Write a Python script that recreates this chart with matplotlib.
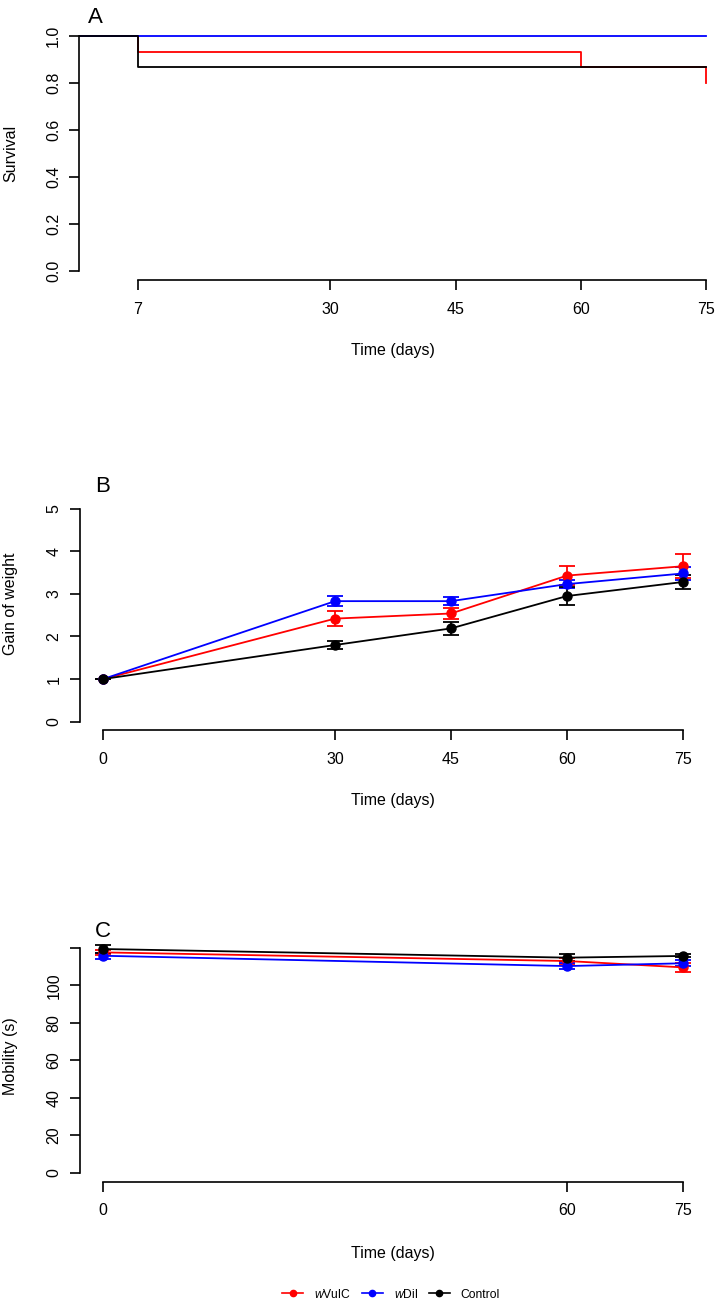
import numpy as np
import matplotlib
matplotlib.use("Agg")
import matplotlib.pyplot as plt
from matplotlib.lines import Line2D

plt.rcParams['font.family'] = ['Liberation Sans', 'DejaVu Sans']
plt.rcParams['mathtext.fontset'] = 'custom'
plt.rcParams['mathtext.rm'] = 'Liberation Sans'
plt.rcParams['mathtext.it'] = 'Liberation Sans:italic'

# --- data ---
# A: survival (Kaplan-Meier steps)
surv_vulc_t = [0, 7, 60, 75]
surv_vulc_s = [1.0, 0.933, 0.867, 0.80]
surv_dil_t = [0, 75]
surv_dil_s = [1.0, 1.0]
surv_ctrl_t = [0, 7, 75]
surv_ctrl_s = [1.0, 0.867, 0.867]
surv_ticks = [7, 30, 45, 60, 75]

# B: gain of weight
days_w = [0, 30, 45, 60, 75]
vulc_w = [1.0, 2.42, 2.54, 3.43, 3.65]
vulc_w_err = [0.0, 0.18, 0.14, 0.22, 0.28]
dil_w = [1.0, 2.83, 2.83, 3.23, 3.48]
dil_w_err = [0.0, 0.11, 0.10, 0.10, 0.15]
ctrl_w = [1.0, 1.80, 2.19, 2.95, 3.28]
ctrl_w_err = [0.0, 0.09, 0.16, 0.21, 0.17]

# C: mobility
days_m = [0, 60, 75]
vulc_m = [117.5, 112.9, 109.5]
vulc_m_err = [1.5, 1.5, 2.3]
dil_m = [115.7, 110.2, 111.7]
dil_m_err = [1.7, 1.5, 1.6]
ctrl_m = [119.3, 114.7, 115.6]
ctrl_m_err = [2.0, 2.0, 0.8]

RED, BLUE, BLACK = "#FF0000", "#0000FF", "#000000"
W, H = 719, 1303
FS = 11.5

fig = plt.figure(figsize=(W / 100, H / 100), dpi=100)


def px_axes(l, t, r, b):
    return fig.add_axes([l / W, 1 - b / H, (r - l) / W, (b - t) / H])


def style(ax, xb, yb, xt, yt, ytl):
    for s in ["top", "right"]:
        ax.spines[s].set_visible(False)
    ax.spines["left"].set_bounds(*yb)
    ax.spines["bottom"].set_bounds(*xb)
    for s in ["left", "bottom"]:
        ax.spines[s].set_linewidth(1.2)
    ax.set_xticks(xt)
    ax.set_xticklabels([str(v) for v in xt])
    ax.set_yticks(yt)
    ax.set_yticklabels(ytl)
    ax.tick_params(axis="x", length=7.5, width=1.2, pad=8, labelsize=FS)
    ax.tick_params(axis="y", length=7.5, width=1.2, pad=5.5, labelsize=FS)
    plt.setp(ax.get_yticklabels(), rotation=90, va="center")


# ---- A ----
axA = px_axes(79.3, 26.9, 731.5, 280.1)
axA.step(surv_vulc_t, surv_vulc_s, where="post", color=RED, lw=1.3)
axA.step(surv_dil_t, surv_dil_s, where="post", color=BLUE, lw=1.3)
axA.step(surv_ctrl_t, surv_ctrl_s, where="post", color=BLACK, lw=1.3)
axA.set_xlim(0, 78)
axA.set_ylim(-0.04, 1.04)
yt = [0, 0.2, 0.4, 0.6, 0.8, 1.0]
style(axA, (7, 75), (0, 1), surv_ticks, yt, [f"{v:.1f}" for v in yt])


def err_panel(ax, x, series):
    for y, e, c in series:
        ax.errorbar(x, y, yerr=e, color=c, marker="o", ms=6.5, lw=1.3,
                    elinewidth=1.3, capsize=6, capthick=1.3)


# ---- B ----
axB = px_axes(79.8, 500.2, 706.2, 730.2)
err_panel(axB, days_w, [(vulc_w, vulc_w_err, RED), (dil_w, dil_w_err, BLUE),
                        (ctrl_w, ctrl_w_err, BLACK)])
axB.set_xlim(-3, 78)
axB.set_ylim(-0.2, 5.2)
yt = [0, 1, 2, 3, 4, 5]
style(axB, (0, 75), (0, 5), days_w, yt, [str(v) for v in yt])

# ---- C ----
axC = px_axes(79.8, 938.7, 706.2, 1181.7)
err_panel(axC, days_m, [(vulc_m, vulc_m_err, RED), (dil_m, dil_m_err, BLUE),
                        (ctrl_m, ctrl_m_err, BLACK)])
axC.set_xlim(-3, 78)
axC.set_ylim(-4.8, 124.8)
yt = [0, 20, 40, 60, 80, 100, 120]
style(axC, (0, 75), (0, 120), days_m, yt, ["0", "20", "40", "60", "80", "100", ""])

# panel letters, axis labels
for letter, x, y in [("A", 88, 22.7), ("B", 95, 492), ("C", 95, 937)]:
    fig.text(x / W, 1 - y / H, letter, fontsize=16, ha="left", va="baseline")

for lab, y in [("Survival", 153.5), ("Gain of weight", 604), ("Mobility (s)", 1056)]:
    fig.text(11 / W, 1 - y / H, lab, fontsize=FS, rotation=90, ha="center", va="center")

for y in [350.5, 800.5, 1253.5]:
    fig.text(392.5 / W, 1 - y / H, "Time (days)", fontsize=FS, ha="center", va="center")

handles = [Line2D([], [], color=c, marker="o", ms=4.5, lw=1.2) for c in (RED, BLUE, BLACK)]
labels = [r"$\it{w}$VulC", r"$\it{w}$Dil", "Control"]
fig.legend(handles, labels, loc="center", bbox_to_anchor=(391 / W, 1 - 1294 / H),
           ncol=3, frameon=False, fontsize=8.7, handlelength=1.75,
           handletextpad=0.9, columnspacing=0.9, borderpad=0)

fig.savefig("out.png", dpi=100)
